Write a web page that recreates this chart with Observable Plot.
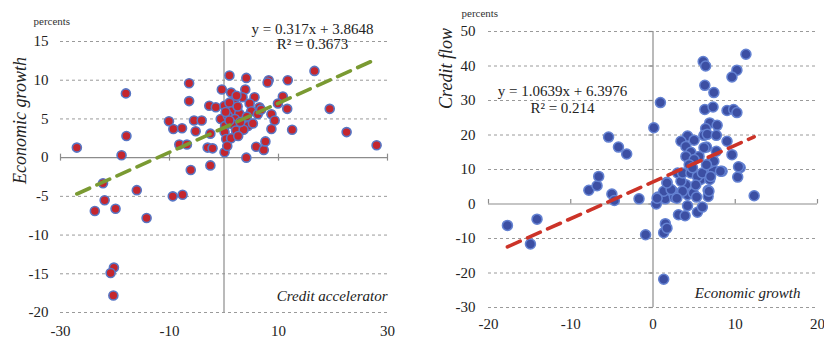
<!DOCTYPE html>
<html>
<head>
<meta charset="utf-8">
<script src="https://cdn.jsdelivr.net/npm/d3@7"></script>
<script src="https://cdn.jsdelivr.net/npm/@observablehq/plot@0.6"></script>
<style>
  html, body { margin: 0; padding: 0; background: #fff; }
  #wrap { position: relative; width: 824px; height: 340px; overflow: hidden; background: #fff; }
  #left, #right { position: absolute; top: 0; }
  #left { left: 0; }
  #right { left: 420px; }
  #wrap svg, #wrap svg text { font-family: "Liberation Serif", "DejaVu Serif", serif !important; }
</style>
</head>
<body>
<div id="wrap"><div id="left"></div><div id="right"></div></div>
<script>
// ---- Left panel: Credit accelerator (x) vs Economic growth (y), percents
const leftAccel = [-27, -18.8, -18, -17.9, -10.1, -9.3, -7.7, -8.2, -6.8, -6.4, -6.4, -5.5, -4.1, -5.2, -2.7, -1.5, -2.5, -3.0, -2.1, 0.1,
  -0.6, -0.4, 1.0, 1.3, 4.1, 3.9, 3.4, 5.6, 1.8, 0.1, 1.0, 4.7, 6.5, 1.4, 5.0, 2.8, 0.7, 2.0, 4.2, 6.2,
  0.2, 1.6, 3.1, 4.4, 0.1, 2.2, 3.6, 0.4, 1.3, 0.6, 5.9, 7.3, 7.6, 4.1, 8.2, 8.0, 11.7, 10.8, 9.9, 8.7,
  9.3, 8.7, 11.6, 12.5, 16.6, 19.4, 22.5, 28, -2.5, -6.1, -22.2, -16, -9.4, -7.6, -23.7, -21.9, -19.9, -14.2, -20.2, -20.8,
  -20.3, 2.5, 3.0, 5.3, 2.3, 1.0, 0.3, 6.8, 2.6];
const leftGrowth = [1.3, 0.3, 8.3, 2.8, 4.7, 3.7, 3.8, 1.7, 1.7, 9.6, 7.3, 4.8, 4.8, 3.4, 6.7, 6.5, 3.1, 1.3, 1.2, 0.7,
  5.0, 8.8, 10.6, 8.4, 10.3, 8.8, 7.8, 7.8, 7.3, 6.7, 7.1, 7.0, 6.5, 6.0, 6.0, 5.7, 5.4, 5.0, 5.3, 5.6,
  4.1, 4.3, 3.9, 4.1, 3.3, 3.5, 3.6, 2.4, 2.5, 1.5, 1.4, 1.0, 2.1, 0.0, 10.0, 9.7, 10.0, 7.9, 7.0, 5.6,
  4.8, 3.7, 6.3, 3.6, 11.2, 6.3, 3.3, 1.6, -1.0, -1.6, -3.3, -4.2, -5.0, -4.8, -6.9, -5.5, -6.6, -7.8, -14.2, -14.9,
  -17.8, 6.6, 4.6, 4.4, 8.0, 4.8, 5.9, 6.2, 2.8];
const leftSlope = 0.317, leftIntercept = 3.8648;
const leftXTicks = [-30, -10, 10, 30];
const leftYTicks = [-20, -15, -10, -5, 0, 5, 10, 15];
const leftEquation = "y = 0.317x + 3.8648";
const leftR2 = "R² = 0.3673";

// ---- Right panel: Economic growth (x) vs Credit flow (y), percents
const rightGrowth = [-17.7, -14.9, -14.1, -7.8, -6.8, -6.6, -5.0, -4.7, -5.4, -4.2, -3.2, -1.7, -0.9, 0.1, 0.9, 0.4, 0.6, 1.3, 1.3, 1.5,
  1.7, 1.5, 1.3, 1.7, 2.4, 2.6, 3.0, 3.1, 3.9, 3.4, 4.2, 4.2, 4.0, 4.9, 5.3, 5.4, 6.0, 6.6, 5.8, 6.7,
  6.7, 6.9, 7.3, 8.4, 10.3, 10.6, 12.3, 6.1, 6.4, 11.3, 10.2, 9.6, 6.3, 7.4, 6.3, 7.3, 9.0, 9.8, 10.2, 6.9,
  7.8, 6.4, 6.2, 6.6, 7.7, 4.2, 3.4, 9.0, 6.5, 4.0, 4.6, 7.7, 4.0, 5.6, 9.6, 5.0, 6.9, 10.4, 2.2, 1.7,
  3.6, 6.8, 3.4, 3.6, 4.6, 5.4, 6.0, 7.0, 8.2, 6.2, 7.4, 6.5, 4.4, 4.8, 5.2, 2.9, 5.0, 0.5];
const rightCredit = [-6.2, -11.6, -4.4, 4.0, 5.3, 8.0, 2.9, 1.0, 19.4, 16.5, 14.5, 1.5, -8.9, 22.1, 29.4, 0.0, 2.0, -21.8, -8.3, -5.7,
  -7.0, 1.5, 3.7, 6.3, 3.7, 2.0, 9.0, -3.1, -3.4, 3.4, -0.5, 2.7, 5.6, 3.2, 2.0, -2.4, -0.9, 9.5, 7.1, 4.0,
  2.2, 7.1, 10.0, 9.5, 7.8, 10.5, 2.4, 41.3, 40.0, 43.4, 38.8, 36.8, 34.4, 32.3, 27.4, 28.1, 27.1, 27.4, 26.5, 23.5,
  22.8, 21.9, 19.9, 20.2, 19.9, 19.7, 18.2, 18.2, 16.5, 16.7, 15.0, 15.3, 13.8, 13.8, 14.3, 12.9, 11.9, 10.8, 4.2, 6.1,
  3.7, 3.7, 6.6, 9.0, 9.0, 8.0, 9.0, 8.0, 9.5, 16.3, 12.4, 11.4, 11.4, 10.5, 5.5, 1.7, 18.5, 1.7];
const rightSlope = 1.0639, rightIntercept = 6.3976;
const rightXTicks = [-20, -10, 0, 10, 20];
const rightYTicks = [-30, -20, -10, 0, 10, 20, 30, 40, 50];
const rightEquation = "y = 1.0639x + 6.3976";
const rightR2 = "R² = 0.214";

const serif = "Liberation Serif, DejaVu Serif, serif";
const fmt = d => String(d);

function fitLine(xs, slope, intercept) {
  const [a, b] = d3.extent(xs);
  return [a, b].map(x => ({x, y: slope * x + intercept}));
}

const leftData = leftAccel.map((x, i) => ({x, y: leftGrowth[i]}));
const rightData = rightGrowth.map((x, i) => ({x, y: rightCredit[i]}));

const left = Plot.plot({
  width: 400, height: 340,
  marginLeft: 60, marginRight: 13, marginTop: 41, marginBottom: 28,
  x: {domain: [-30, 30], label: null},
  y: {domain: [-20, 15], label: null},
  style: {fontFamily: serif, color: "#222", background: "white", overflow: "visible"},
  marks: [
    Plot.ruleY(leftYTicks.filter(d => d !== 0), {stroke: "#9a9a9a", strokeDasharray: "3,3", strokeWidth: 1}),
    Plot.ruleX([0], {stroke: "#8c8c8c", strokeWidth: 1.2}),
    Plot.ruleY([0], {stroke: "#8c8c8c", strokeWidth: 1.2}),
    Plot.ruleX(leftXTicks, {y1: -0.45, y2: 0.45, stroke: "#8c8c8c", strokeWidth: 1.2}),
    Plot.axisX(leftXTicks, {tickSize: 0, tickPadding: 13, tickFormat: fmt, fontSize: 15}),
    Plot.axisY(leftYTicks, {tickSize: 0, tickPadding: 12, tickFormat: fmt, fontSize: 15}),
    Plot.dot(leftData, {x: "x", y: "y", r: 4.5, fill: "#c4262e", stroke: "#5876c4", strokeWidth: 1.6}),
    Plot.line(fitLine(leftAccel, leftSlope, leftIntercept), {x: "x", y: "y", stroke: "#7a9a32", strokeWidth: 3.6, strokeDasharray: "14,8"}),
    Plot.text(["percents"], {frameAnchor: "top-left", dx: -27, dy: -17, textAnchor: "start", lineAnchor: "bottom", fontSize: 11, fill: "#333"}),
    Plot.text(["Economic growth"], {frameAnchor: "top-left", dx: -40, dy: 79, rotate: -90, textAnchor: "middle", lineAnchor: "middle", fontSize: 18, fontStyle: "italic", fill: "#222"}),
    Plot.text([leftEquation], {frameAnchor: "top-right", dx: -75, dy: -8, textAnchor: "middle", lineAnchor: "bottom", fontSize: 15, fill: "#222"}),
    Plot.text([leftR2], {frameAnchor: "top-right", dx: -75, dy: 7, textAnchor: "middle", lineAnchor: "bottom", fontSize: 15, fill: "#222"}),
    Plot.text(["Credit accelerator"], {frameAnchor: "bottom-right", dx: 0, dy: -12, textAnchor: "end", lineAnchor: "bottom", fontSize: 15, fontStyle: "italic", fill: "#222"})
  ]
});
document.getElementById("left").append(left);

const right = Plot.plot({
  width: 404, height: 340,
  marginLeft: 68, marginRight: 7, marginTop: 31, marginBottom: 33,
  x: {domain: [-20, 20], label: null},
  y: {domain: [-30, 50], label: null},
  style: {fontFamily: serif, color: "#222", background: "white", overflow: "visible"},
  marks: [
    Plot.ruleY(rightYTicks.filter(d => d !== 0), {stroke: "#9a9a9a", strokeDasharray: "3,3", strokeWidth: 1}),
    Plot.ruleX([0], {stroke: "#8c8c8c", strokeWidth: 1.2}),
    Plot.ruleY([0], {stroke: "#8c8c8c", strokeWidth: 1.2}),
    Plot.ruleX(rightXTicks, {y1: 0, y2: 1.3, stroke: "#8c8c8c", strokeWidth: 1.2}),
    Plot.ruleY(rightYTicks, {x1: -0.5, x2: 0, stroke: "#8c8c8c", strokeWidth: 1.2}),
    Plot.axisX(rightXTicks, {tickSize: 0, tickPadding: 11, tickFormat: fmt, fontSize: 15}),
    Plot.axisY(rightYTicks, {tickSize: 0, tickPadding: 13, tickFormat: fmt, fontSize: 15}),
    Plot.dot(rightData, {x: "x", y: "y", r: 5, fill: "#3c4fa3", stroke: "#6482d2", strokeWidth: 1.5}),
    Plot.line(fitLine(rightGrowth, rightSlope, rightIntercept), {x: "x", y: "y", stroke: "#cc3328", strokeWidth: 3.6, strokeDasharray: "14,8"}),
    Plot.text(["percents"], {frameAnchor: "top-left", dx: -27, dy: -15, textAnchor: "start", lineAnchor: "bottom", fontSize: 11, fill: "#333"}),
    Plot.text(["Credit flow"], {frameAnchor: "top-left", dx: -42, dy: 37, rotate: -90, textAnchor: "middle", lineAnchor: "middle", fontSize: 18, fontStyle: "italic", fill: "#222"}),
    Plot.text([rightEquation], {frameAnchor: "top-left", dx: 74, dy: 64, textAnchor: "middle", lineAnchor: "bottom", fontSize: 15, fill: "#222"}),
    Plot.text([rightR2], {frameAnchor: "top-left", dx: 74, dy: 81, textAnchor: "middle", lineAnchor: "bottom", fontSize: 15, fill: "#222"}),
    Plot.text(["Economic growth"], {frameAnchor: "bottom-right", dx: -17, dy: -10, textAnchor: "end", lineAnchor: "bottom", fontSize: 15, fontStyle: "italic", fill: "#222"})
  ]
});
document.getElementById("right").append(right);
</script>
</body>
</html>
